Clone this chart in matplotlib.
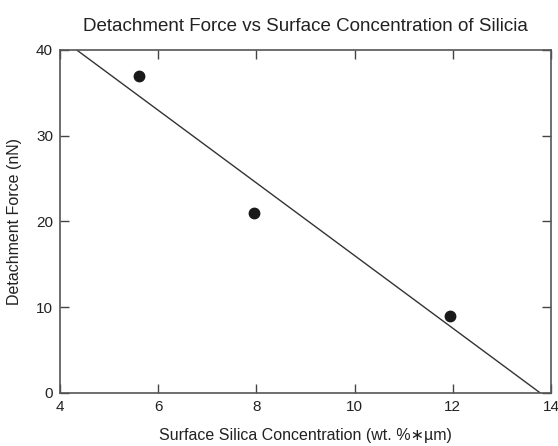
import matplotlib.pyplot as plt

plt.rcParams['font.family'] = ['Liberation Sans', 'DejaVu Sans']

# measured points
silica = [5.6, 7.95, 11.95]
force = [37, 21, 9]

# fitted line, endpoints
fit_x = [4.34, 13.78]
fit_y = [40, 0]

xticks = [4, 6, 8, 10, 12, 14]
yticks = [0, 10, 20, 30, 40]

fig = plt.figure(figsize=(5.58, 4.46), dpi=100)
ax = fig.add_axes([0.1075, 0.119, 0.880, 0.769])

ax.plot(fit_x, fit_y, color='#333333', linewidth=1.0)
ax.plot(silica, force, 'o', color='#1a1a1a', markersize=7.5)

ax.set_xlim(4, 14)
ax.set_ylim(0, 40)
ax.set_xticks(xticks)
ax.set_yticks(yticks)
ax.tick_params(direction='in', length=6.5, width=1.0, color='#444444',
               top=True, right=True, labelsize=11, pad=5, labelcolor='#222222')
for s in ax.spines.values():
    s.set_color('#555555')
    s.set_linewidth(1.2)

ax.set_xlabel('Surface Silica Concentration (wt. %\u2217\u00b5m)', fontsize=11.5, labelpad=10, color='#222222')
ax.set_ylabel('Detachment Force (nN)', fontsize=11.5, labelpad=10, color='#222222')
ax.set_title('Detachment Force vs Surface Concentration of Silicia', fontsize=13.5, pad=14, color='#222222')

fig.savefig('out.png', dpi=100)
